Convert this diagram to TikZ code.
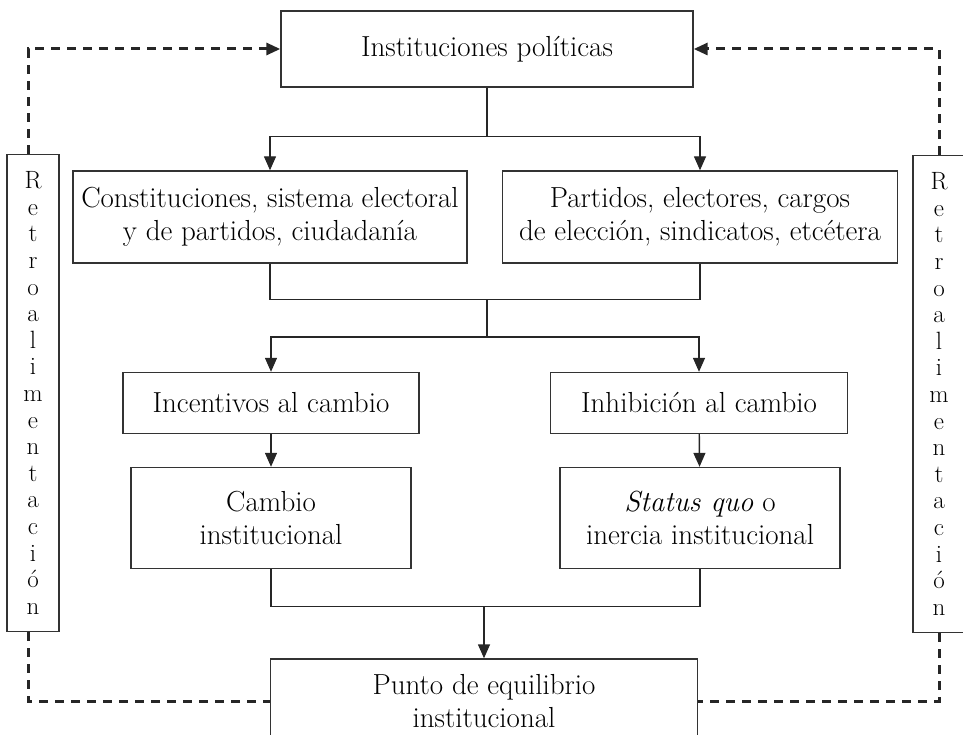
\documentclass[tikz,border=0pt]{standalone}
\usepackage{fontspec}
\usetikzlibrary{arrows.meta}
\tikzstyle{box}=[draw=black!80, line width=1.4pt, rectangle, align=center, inner sep=0pt, font=\fontsize{29}{33}\selectfont]
\tikzstyle{retro}=[box, font=\fontsize{25}{26.6}\selectfont]
\tikzstyle{link}=[line width=1.4pt, black!85, -{Triangle[length=14pt,width=12pt]}]
\tikzstyle{joint}=[line width=1.4pt, black!85]
\tikzstyle{feedback}=[line width=3pt, dash pattern=on 9pt off 7pt, black!85]

\begin{document}
\begin{tikzpicture}[x=1pt, y=-1pt]
    \useasboundingbox (0,0) rectangle (963,735);
    \clip (0,0) rectangle (963,735);
% Boxes
    \node[box, minimum width=412, minimum height=76] (inst) at (487,49) {Instituciones políticas};
    \node[box, minimum width=394, minimum height=92] (const) at (270,217) {Constituciones, sistema electoral\\y de partidos, ciudadanía};
    \node[box, minimum width=395, minimum height=92] (part) at (700,217) {Partidos, electores, cargos\\de elección, sindicatos, etcétera};
    \node[box, minimum width=296, minimum height=61] (inc) at (271,403) {Incentivos al cambio};
    \node[box, minimum width=297, minimum height=61] (inh) at (699,403) {Inhibición al cambio};
    \node[box, minimum width=280, minimum height=101] (camb) at (271,518) {Cambio\\institucional};
    \node[box, minimum width=280, minimum height=101] (stat) at (700,518) {\textit{Status quo} o\\inercia institucional};
    \node[box, minimum width=427, minimum height=84] (punto) at (484,701) {Punto de equilibrio\\institucional};
    \node[retro, minimum width=52, minimum height=477] (retL) at (33,393) {R\\e\\t\\r\\o\\a\\l\\i\\m\\e\\n\\t\\a\\c\\i\\ó\\n};
    \node[retro, minimum width=52, minimum height=477] (retR) at (939,394) {R\\e\\t\\r\\o\\a\\l\\i\\m\\e\\n\\t\\a\\c\\i\\ó\\n};
% Arrows
    \draw[joint] (inst.south) -- ++(0,49) coordinate (split1);
    \draw[link] (split1) -| (const.north);
    \draw[link] (split1) -| (part.north);
    \draw[joint] (const.south) -- ++(0,36) -| (part.south);
    \draw[joint] (inst.south |- 0,299) coordinate (split2) -- ++(0,38) coordinate (split3);
    \draw[link] (split3) -| (inc.north);
    \draw[link] (split3) -| (inh.north);
    \draw[link] (inc) -- (camb);
    \draw[link] (inh) -- (stat);
    \draw[joint] (camb.south) -- ++(0,37) -| (stat.south);
    \draw[link] (punto.north |- 0,606) -- (punto.north);
% Feedback
    \draw[feedback, -{Triangle[length=14pt,width=12pt]}] ([xshift=-5pt]retL.north) |- (inst.west);
    \draw[feedback, -{Triangle[length=14pt,width=12pt]}] (retR.north) |- (inst.east);
    \draw[feedback] ([xshift=-5pt]retL.south) |- (punto.west);
    \draw[feedback] (retR.south) |- (punto.east);
\end{tikzpicture}
\end{document}
